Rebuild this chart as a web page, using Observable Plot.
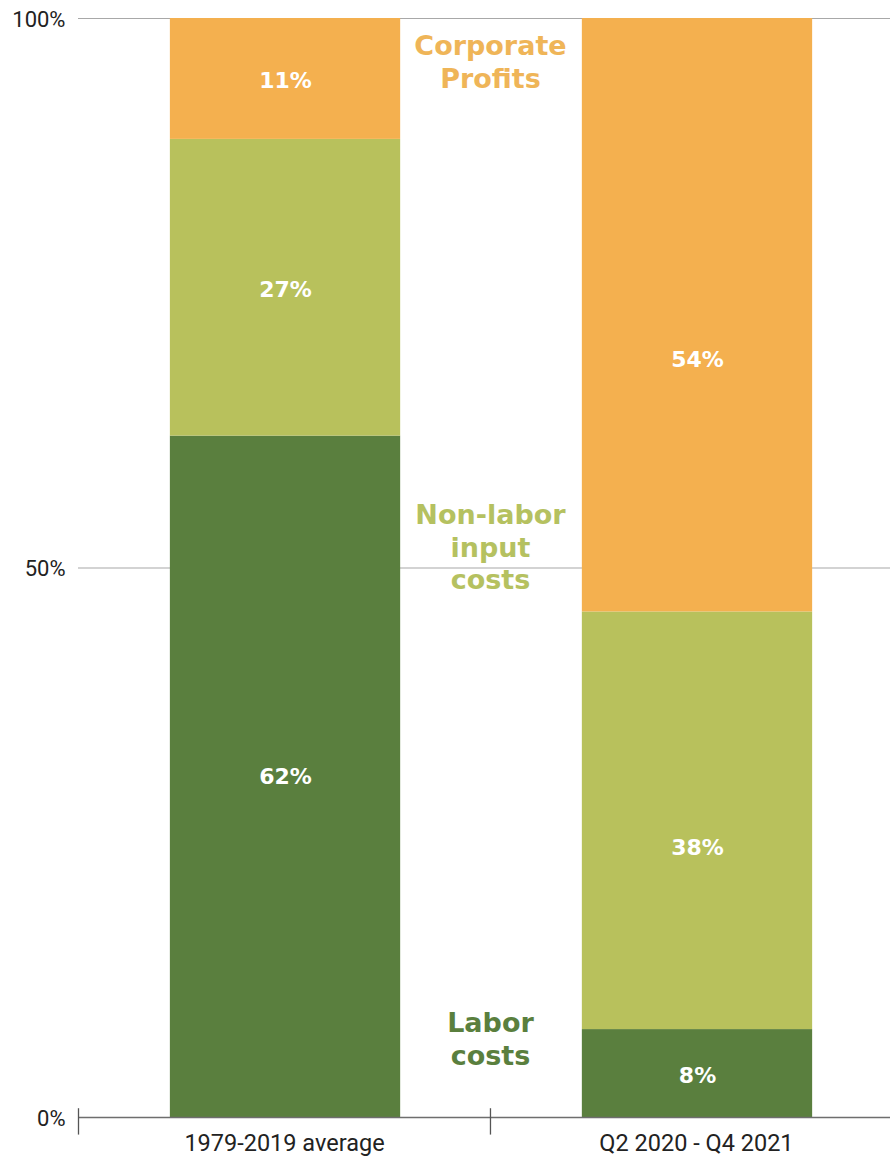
<!DOCTYPE html>
<html>
<head>
<meta charset="utf-8">
<script src="https://cdn.jsdelivr.net/npm/d3@7"></script>
<script src="https://cdn.jsdelivr.net/npm/@observablehq/plot@0.6"></script>
<style>
  html, body { margin: 0; padding: 0; background: #fff; }
  #chart svg { display: block; }
</style>
</head>
<body>
<div id="chart"></div>
<script>
// ---- data ----
const periods = ["1979-2019 average", "Q2 2020 - Q4 2021"];
const components = ["Labor costs", "Non-labor input costs", "Corporate Profits"];
const laborShare = [62, 8];
const nonLaborShare = [27, 38];
const profitShare = [11, 54];
const yTicks = [0, 50, 100];

const colors = ["#5a7f3e", "#b8c15c", "#f4b04f"];
const noteColors = ["#5a7f3e", "#b5c160", "#efb558"];
const annotationText = ["Labor\ncosts", "Non-labor\ninput\ncosts", "Corporate\nProfits"];
const annotationY = [7.2, 52.0, 96.1];

// build stacked rows
const series = [laborShare, nonLaborShare, profitShare];
const rows = [];
periods.forEach((p, i) => {
  let base = 0;
  components.forEach((c, k) => {
    const v = series[k][i];
    rows.push({period: p, i, component: c, k, value: v, y1: base, y2: base + v});
    base += v;
  });
});
// per-label vertical nudges (in percentage points), matching the original's label placement
const labelShift = {"0-0": 0, "0-1": -0.2, "0-2": -0.2, "1-0": -0.2, "1-1": -2.5, "1-2": -4.1};

const font = "'DejaVu Sans', sans-serif";
const tickFont = "Roboto, sans-serif";

const plot = Plot.plot({
  width: 890,
  height: 1161,
  marginTop: 18,
  marginBottom: 44,
  marginLeft: 78,
  marginRight: 0,
  style: {fontFamily: tickFont, background: "#fff"},
  x: {domain: [0, 1.971], axis: null},
  y: {domain: [0, 100], axis: null},
  marks: [
    Plot.ruleY(yTicks.filter(d => d > 0), {x1: 0, x2: 1.971, stroke: "#a8a8a8", strokeWidth: 1.2}),
    Plot.rect(rows, {
      x1: d => d.i + 0.223, x2: d => d.i + 0.782,
      y1: "y1", y2: "y2",
      fill: d => colors[d.k]
    }),
    Plot.ruleY([0], {x1: 0, x2: 1.971, stroke: "#6e6e6e", strokeWidth: 1.3}),
    Plot.ruleX([0, 1], {y1: 0.8, y2: -1.6, stroke: "#555", strokeWidth: 1.3}),
    // y axis labels
    Plot.text(yTicks, {
      x: 0, y: d => d, text: d => d + "%", textAnchor: "end", dx: -13, dy: 1,
      fontSize: 22, fill: "#222", fontFamily: tickFont
    }),
    // category labels
    Plot.text(periods, {
      x: (d, i) => i + 0.5, y: 0, text: d => d, dy: 26,
      fontSize: 23.5, fill: "#222", fontFamily: tickFont
    }),
    // value labels inside the bars
    Plot.text(rows, {
      x: d => d.i + 0.5025, y: d => (d.y1 + d.y2) / 2 + labelShift[d.i + "-" + d.k],
      text: d => d.value + "%",
      fill: "#fff", fontSize: 22, fontWeight: "bold", fontFamily: font
    }),
    // component annotations between the bars
    Plot.text(components, {
      x: 1, y: (d, k) => annotationY[k],
      text: (d, k) => annotationText[k],
      fill: (d, k) => noteColors[k],
      lineAnchor: "middle", lineHeight: 1.22,
      fontSize: 27, fontWeight: "bold", fontFamily: font
    })
  ]
});
document.getElementById("chart").appendChild(plot);
</script>
</body>
</html>
